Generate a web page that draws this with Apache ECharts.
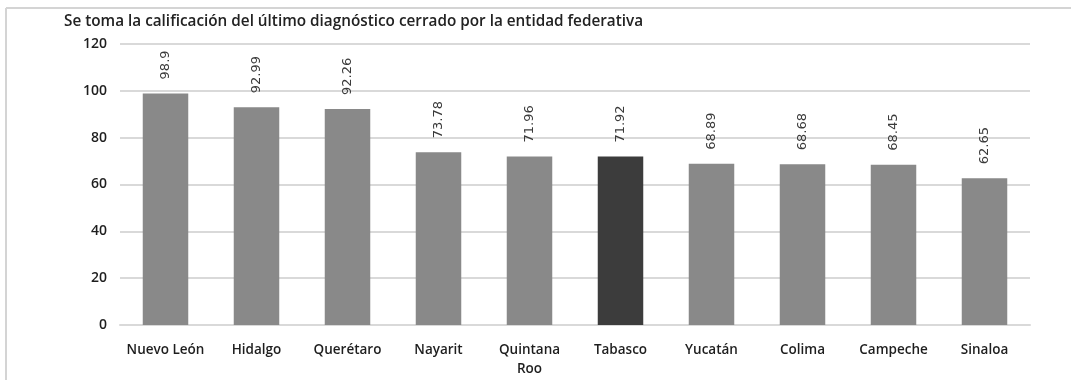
<!DOCTYPE html>
<html>
<head>
<meta charset="utf-8">
<script src="https://cdn.jsdelivr.net/npm/echarts@6/dist/echarts.min.js"></script>
<style>
  html, body { margin: 0; padding: 0; background: #fff; }
  #chart { width: 1071px; height: 380px; }
</style>
</head>
<body>
<div id="chart"></div>
<script>
// Entidades federativas y su calificación
const estados = ['Nuevo León', 'Hidalgo', 'Querétaro', 'Nayarit', 'Quintana\nRoo', 'Tabasco', 'Yucatán', 'Colima', 'Campeche', 'Sinaloa'];
const calificacion = [98.9, 92.99, 92.26, 73.78, 71.96, 71.92, 68.89, 68.68, 68.45, 62.65];
const destacado = 'Tabasco';
const subtitulo = 'Se toma la calificación del último diagnóstico cerrado por la entidad federativa';

const chart = echarts.init(document.getElementById('chart'), null, { renderer: 'canvas' });

const barData = calificacion.map((v, i) => ({
  value: v,
  itemStyle: { color: estados[i] === destacado ? '#3c3c3c' : '#898989' }
}));

chart.setOption({
  animation: false,
  backgroundColor: '#ffffff',
  textStyle: { fontFamily: 'Open Sans, Noto Sans, sans-serif' },
  title: {
    text: subtitulo,
    left: 59,
    top: 9,
    textStyle: { fontSize: 15.3, fontWeight: 600, color: '#222', fontFamily: 'Open Sans, sans-serif' }
  },
  graphic: [
    { type: 'line', shape: { x1: 6, y1: 8, x2: 1071, y2: 8 }, style: { stroke: '#d4d4d4', lineWidth: 2 } },
    { type: 'line', shape: { x1: 6, y1: 8, x2: 6, y2: 380 }, style: { stroke: '#d4d4d4', lineWidth: 2 } }
  ],
  grid: { left: 120, right: 41, top: 44, bottom: 55 },
  xAxis: {
    type: 'category',
    data: estados,
    axisLine: { show: true, lineStyle: { color: '#d9d9d9', width: 2 } },
    axisTick: { show: false },
    axisLabel: { color: '#1e1e1e', fontSize: 13.5, fontWeight: 600, margin: 16, lineHeight: 19, interval: 0 }
  },
  yAxis: {
    type: 'value',
    min: 0,
    max: 120,
    interval: 20,
    axisLine: { show: false },
    axisTick: { show: false },
    splitLine: { lineStyle: { color: '#d9d9d9', width: 2 } },
    axisLabel: { color: '#1e1e1e', fontSize: 14, fontWeight: 600, margin: 13 }
  },
  series: [{
    type: 'bar',
    data: barData,
    barWidth: '50%',
    label: {
      show: true,
      position: 'top',
      distance: 14,
      rotate: 90,
      align: 'left',
      verticalAlign: 'middle',
      color: '#3a3a3a',
      fontSize: 13,
      fontFamily: 'DejaVu Sans, sans-serif',
      formatter: p => String(p.value)
    }
  }]
});
</script>
</body>
</html>
